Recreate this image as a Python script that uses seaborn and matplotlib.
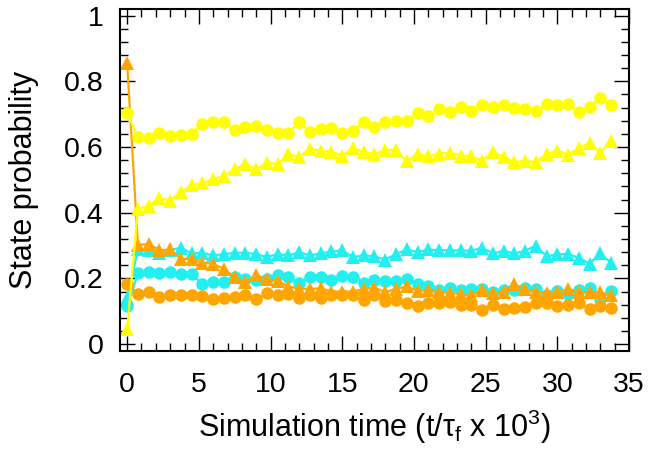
import numpy as np
import pandas as pd
import matplotlib
matplotlib.use("Agg")
import matplotlib.pyplot as plt
from matplotlib.ticker import MultipleLocator, FuncFormatter
import seaborn as sns

time = [i * 0.75 for i in range(46)]

yellow_circle = [0.703, 0.630, 0.626, 0.644, 0.634, 0.638, 0.640, 0.671, 0.675, 0.675,
                 0.652, 0.660, 0.663, 0.652, 0.644, 0.644, 0.675, 0.646, 0.654, 0.658,
                 0.644, 0.648, 0.675, 0.660, 0.677, 0.679, 0.679, 0.703, 0.695, 0.715,
                 0.707, 0.721, 0.711, 0.729, 0.723, 0.727, 0.719, 0.717, 0.709, 0.731,
                 0.727, 0.731, 0.707, 0.721, 0.750, 0.729]
yellow_triangle = [0.045, 0.412, 0.420, 0.445, 0.437, 0.463, 0.483, 0.491, 0.502, 0.512,
                   0.532, 0.548, 0.532, 0.552, 0.548, 0.578, 0.570, 0.595, 0.589, 0.585,
                   0.574, 0.597, 0.585, 0.578, 0.591, 0.591, 0.556, 0.578, 0.572, 0.580,
                   0.583, 0.574, 0.572, 0.558, 0.585, 0.570, 0.554, 0.558, 0.554, 0.578,
                   0.589, 0.576, 0.597, 0.613, 0.583, 0.617]
cyan_triangle = [0.140, 0.288, 0.285, 0.278, 0.286, 0.294, 0.276, 0.278, 0.270, 0.274,
                 0.278, 0.278, 0.274, 0.265, 0.274, 0.270, 0.280, 0.270, 0.276, 0.282,
                 0.285, 0.265, 0.270, 0.267, 0.257, 0.274, 0.288, 0.280, 0.288, 0.286,
                 0.286, 0.285, 0.284, 0.294, 0.276, 0.284, 0.276, 0.284, 0.300, 0.267,
                 0.274, 0.274, 0.263, 0.245, 0.276, 0.247]
cyan_circle = [0.115, 0.215, 0.219, 0.217, 0.219, 0.213, 0.212, 0.183, 0.189, 0.188,
               0.205, 0.198, 0.195, 0.198, 0.211, 0.203, 0.187, 0.203, 0.205, 0.195,
               0.207, 0.205, 0.187, 0.195, 0.192, 0.192, 0.197, 0.182, 0.176, 0.164,
               0.170, 0.165, 0.168, 0.168, 0.160, 0.166, 0.166, 0.172, 0.168, 0.148,
               0.162, 0.152, 0.166, 0.172, 0.136, 0.162]
orange_triangle = [0.855, 0.302, 0.305, 0.286, 0.288, 0.260, 0.258, 0.248, 0.244, 0.229,
                   0.203, 0.188, 0.210, 0.197, 0.193, 0.175, 0.169, 0.168, 0.170, 0.160,
                   0.160, 0.160, 0.168, 0.172, 0.158, 0.168, 0.176, 0.162, 0.164, 0.158,
                   0.156, 0.152, 0.148, 0.164, 0.156, 0.160, 0.182, 0.168, 0.158, 0.156,
                   0.158, 0.168, 0.158, 0.158, 0.158, 0.148]
orange_circle = [0.182, 0.154, 0.160, 0.142, 0.148, 0.148, 0.148, 0.146, 0.138, 0.140,
                 0.144, 0.148, 0.138, 0.156, 0.148, 0.154, 0.140, 0.148, 0.140, 0.148,
                 0.148, 0.148, 0.134, 0.148, 0.132, 0.134, 0.124, 0.115, 0.124, 0.124,
                 0.128, 0.120, 0.120, 0.103, 0.120, 0.107, 0.109, 0.113, 0.126, 0.124,
                 0.115, 0.118, 0.126, 0.107, 0.115, 0.109]

x_ticks = [0, 5, 10, 15, 20, 25, 30, 35]
y_ticks = [0, 0.2, 0.4, 0.6, 0.8, 1.0]

YELLOW = "#ffff00"
CYAN = "#22f0f0"
ORANGE = "#ffa500"

series = [
    ("cyan_triangle", cyan_triangle, CYAN, "^"),
    ("cyan_circle", cyan_circle, CYAN, "o"),
    ("orange_circle", orange_circle, ORANGE, "o"),
    ("orange_triangle", orange_triangle, ORANGE, "^"),
    ("yellow_circle", yellow_circle, YELLOW, "o"),
    ("yellow_triangle", yellow_triangle, YELLOW, "^"),
]

sns.set_style("ticks")
plt.rcParams["font.family"] = ["Liberation Sans", "DejaVu Sans"]
plt.rcParams["mathtext.fontset"] = "custom"
plt.rcParams["mathtext.rm"] = "Liberation Sans"
plt.rcParams["mathtext.it"] = "Liberation Sans"
plt.rcParams["text.color"] = "black"
plt.rcParams["axes.labelcolor"] = "black"
plt.rcParams["xtick.color"] = "black"
plt.rcParams["ytick.color"] = "black"
plt.rcParams["xtick.labelcolor"] = "black"
plt.rcParams["ytick.labelcolor"] = "black"

fig = plt.figure(figsize=(6.5, 4.5), dpi=100)
ax = fig.add_axes([0.1846, 0.2207, 0.7831, 0.7593])

for name, vals, color, marker in series:
    df = pd.DataFrame({"time": time, "p": vals})
    ms = 9.6 if marker == "^" else 9.0
    sns.lineplot(data=df, x="time", y="p", ax=ax, color=color, marker=marker,
                 markersize=ms, markeredgewidth=0, linewidth=1.6, estimator=None,
                 sort=False)

ax.set_xlim(-0.5, 35)
ax.set_ylim(-0.02, 1.02)
ax.set_xticks(x_ticks)
ax.set_yticks(y_ticks)
ax.xaxis.set_minor_locator(MultipleLocator(1))
ax.yaxis.set_minor_locator(MultipleLocator(0.04))
ax.yaxis.set_major_formatter(FuncFormatter(lambda v, p: f"{v:g}"))
ax.tick_params(which="both", direction="in", top=True, right=True,
               labelsize=20.5, width=1.0, color="black", labelcolor="black")
ax.tick_params(axis="y", which="both", pad=12)
ax.tick_params(axis="x", which="both", pad=15)
ax.tick_params(which="major", length=11)
ax.tick_params(which="minor", length=6)
for sp in ax.spines.values():
    sp.set_linewidth(1.5)
    sp.set_color("black")

ax.set_xlabel(r"Simulation time (t/$\tau_\mathrm{f}$ x 10$^3$)", fontsize=22, labelpad=7,
              color="black")
ax.set_ylabel("State probability", fontsize=22, labelpad=18, color="black")

fig.savefig("out.png", dpi=100)
